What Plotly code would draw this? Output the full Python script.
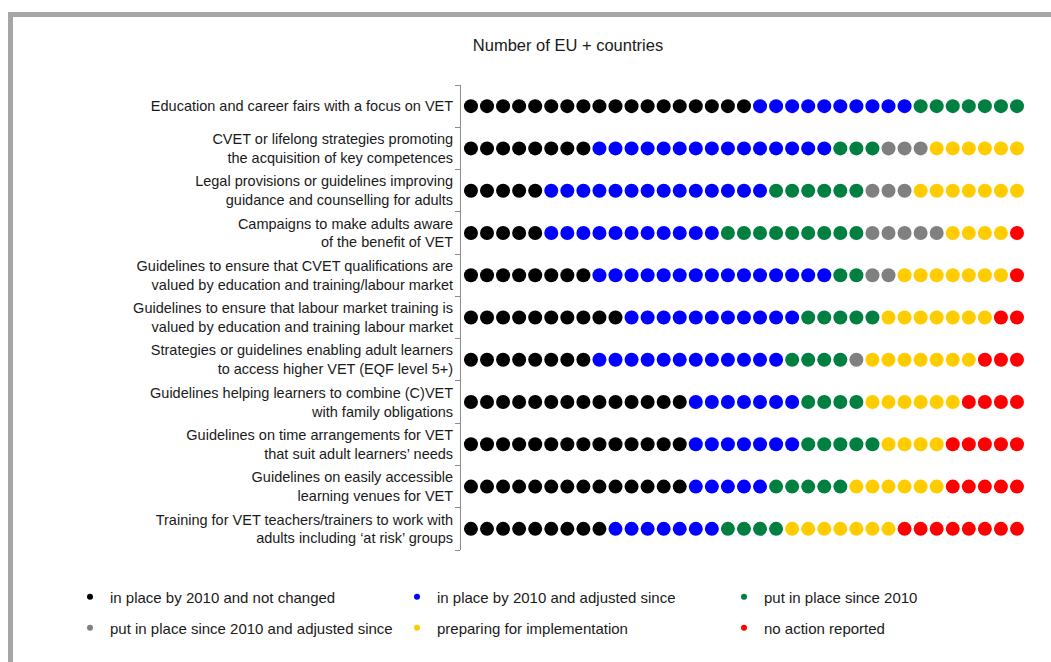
import plotly.graph_objects as go

categories = [
    "Education and career fairs with a focus on VET",
    "CVET or lifelong strategies promoting<br>the acquisition of key competences",
    "Legal provisions or guidelines improving<br>guidance and counselling for adults",
    "Campaigns to make adults aware<br>of the benefit of VET",
    "Guidelines to ensure that CVET qualifications are<br>valued by education and training/labour market",
    "Guidelines to ensure that labour market training is<br>valued by education and training labour market",
    "Strategies or guidelines enabling adult learners<br>to access higher VET (EQF level 5+)",
    "Guidelines helping learners to combine (C)VET<br>with family obligations",
    "Guidelines on time arrangements for VET<br>that suit adult learners’ needs",
    "Guidelines on easily accessible<br>learning venues for VET",
    "Training for VET teachers/trainers to work with<br>adults including ‘at risk’ groups",
]

in_place_not_changed = [18, 8, 5, 5, 8, 10, 8, 14, 14, 14, 9]
in_place_adjusted = [10, 15, 14, 11, 15, 11, 12, 7, 7, 5, 7]
put_in_place = [7, 3, 6, 9, 2, 5, 4, 4, 5, 5, 4]
put_in_place_adjusted = [0, 3, 3, 5, 2, 0, 1, 0, 0, 0, 0]
preparing = [0, 6, 7, 4, 7, 7, 7, 6, 4, 6, 7]
no_action = [0, 0, 0, 1, 1, 2, 3, 4, 5, 5, 8]

series_names = [
    "in place by 2010 and not changed",
    "in place by 2010 and adjusted since",
    "put in place since 2010",
    "put in place since 2010 and adjusted since",
    "preparing for implementation",
    "no action reported",
]
series_values = [in_place_not_changed, in_place_adjusted, put_in_place,
                 put_in_place_adjusted, preparing, no_action]
series_colors = ["#000000", "#0000FF", "#008040", "#808080", "#FFCC00", "#FF0000"]

FONT = "Liberation Sans, Arial, sans-serif"

fig = go.Figure()

n_rows = len(categories)
offsets = [0] * n_rows
for name, vals, col in zip(series_names, series_values, series_colors):
    xs, ys = [], []
    for r in range(n_rows):
        for k in range(vals[r]):
            xs.append(offsets[r] + k + 1)
            ys.append(r)
        offsets[r] += vals[r]
    fig.add_trace(go.Scatter(
        x=xs, y=ys, mode="markers", name=name, showlegend=False,
        marker=dict(color=col, size=14, line=dict(width=0)),
        hoverinfo="skip",
    ))

# legend entries
for i, (name, col) in enumerate(zip(series_names, series_colors)):
    fig.add_trace(go.Scatter(
        x=[None], y=[None], mode="markers", name=name,
        marker=dict(color=col, size=6),
        legend="legend" if i < 3 else "legend2",
    ))

L, R, T, B = 461, 21, 85, 112
W, H = 1051, 662
pw = W - L - R
ph = H - T - B

def px_x(px):
    return (px - L) / pw

def px_y(py):
    return (H - B - py) / ph

legend_common = dict(
    orientation="h", xanchor="left", yanchor="middle",
    entrywidth=282, entrywidthmode="pixels",
    font=dict(family=FONT, size=15, color="#1a1a1a"),
    bgcolor="rgba(0,0,0,0)", itemwidth=30,
)

fig.update_layout(
    width=W, height=H,
    margin=dict(l=L, r=R, t=T, b=B),
    paper_bgcolor="white", plot_bgcolor="white",
    font=dict(family=FONT, size=14.5, color="#1a1a1a"),
    title=dict(text="Number of EU + countries", x=568 / W, xanchor="center",
               y=1 - 45 / H, yanchor="middle",
               font=dict(family=FONT, size=16.5, color="#1a1a1a")),
    xaxis=dict(range=[0.38, 35.81], showgrid=False, zeroline=False,
               showticklabels=False, showline=False, fixedrange=True),
    yaxis=dict(range=[n_rows - 0.5, -0.5], tickmode="array",
               tickvals=list(range(n_rows)), ticktext=categories,
               showgrid=False, zeroline=False, showline=True,
               linecolor="#8c8c8c", linewidth=1, ticks="",
               ticklabelstandoff=4,
               tickfont=dict(family=FONT, size=14.5, color="#1a1a1a"),
               minor=dict(tickmode="array",
                          tickvals=[i - 0.5 for i in range(n_rows + 1)],
                          ticks="outside", ticklen=5, tickcolor="#8c8c8c",
                          tickwidth=1, showgrid=False)),
    legend=dict(x=px_x(84), y=px_y(597), **legend_common),
    legend2=dict(x=px_x(84), y=px_y(628), **legend_common),
    shapes=[
        dict(type="rect", xref="paper", yref="paper",
             x0=px_x(8), x1=px_x(W), y0=px_y(12), y1=px_y(17),
             fillcolor="#a6a6a6", line=dict(width=0), layer="below"),
        dict(type="rect", xref="paper", yref="paper",
             x0=px_x(8), x1=px_x(13), y0=px_y(H), y1=px_y(12),
             fillcolor="#a6a6a6", line=dict(width=0), layer="below"),
    ],
)

fig.write_html("out.html", config={"displayModeBar": False},
               post_script="document.body.style.margin='0';")
